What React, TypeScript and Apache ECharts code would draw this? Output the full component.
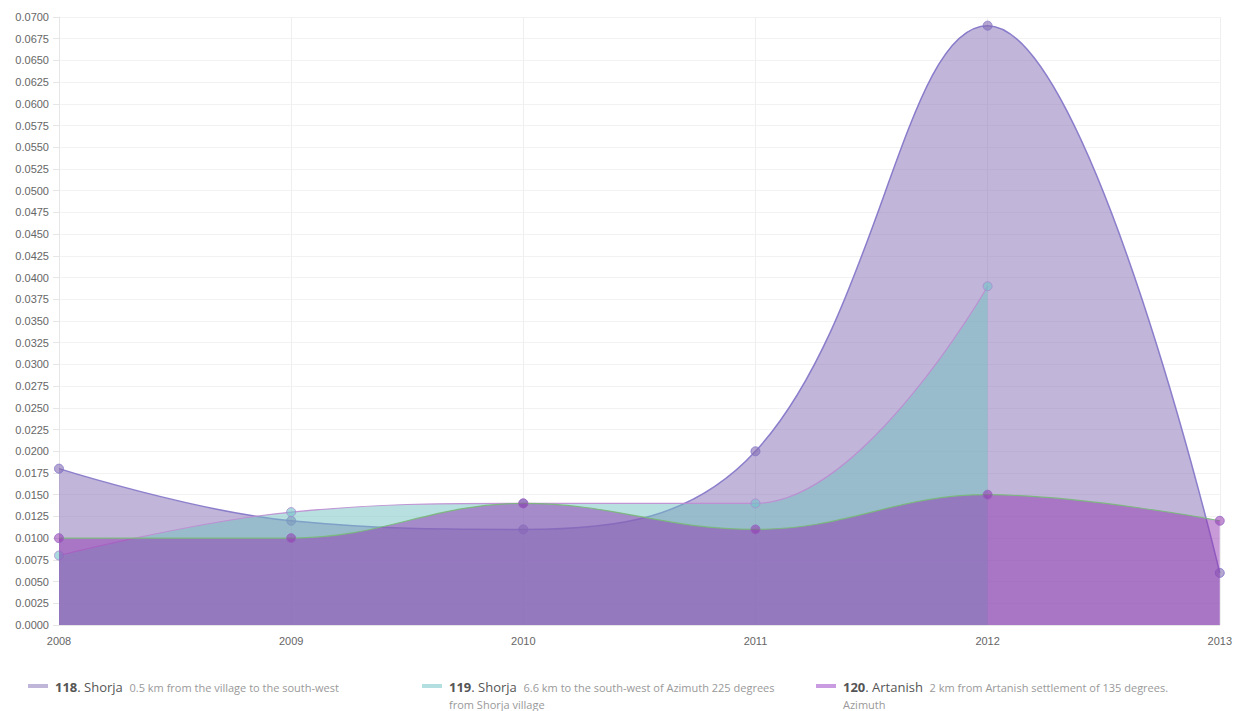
import React, { useEffect, useRef } from "react";
import * as echarts from "echarts";

const years = ["2008", "2009", "2010", "2011", "2012", "2013"];
const shorja118 = [0.018, 0.012, 0.011, 0.02, 0.069, 0.006];
const shorja119 = [0.008, 0.013, 0.014, 0.014, 0.039, null];
const artanish120 = [0.01, 0.01, 0.014, 0.011, 0.015, 0.012];

const legendItems = [
  { num: "118", name: "Shorja", desc1: "0.5 km from the village to the south-west", desc2: "", swatch: "#c0b6d9" },
  { num: "119", name: "Shorja", desc1: "6.6 km to the south-west of Azimuth 225 degrees", desc2: "from Shorja village", swatch: "#b3dfe1" },
  { num: "120", name: "Artanish", desc1: "2 km from Artanish settlement of 135 degrees.", desc2: "Azimuth", swatch: "#c99be0" },
];

export default function App() {
  const ref = useRef<HTMLDivElement>(null);
  useEffect(() => {
    if (!ref.current) return;
    const chart = echarts.init(ref.current, null, { renderer: "svg" });
    const legendX = [28, 422, 816];
    const graphic: any[] = [];
    legendItems.forEach((it, i) => {
      const x = legendX[i];
      graphic.push({
        type: "rect",
        shape: { x: x, y: 684, width: 20, height: 4 },
        style: { fill: it.swatch },
      });
      graphic.push({
        type: "text",
        x: x + 27,
        y: 687,
        style: {
          text: `{b|${it.num}}{n|. ${it.name}}  {d|${it.desc1}}`,
          verticalAlign: "middle",
          rich: {
            b: { fontFamily: "Open Sans", fontSize: 13, fontWeight: "bold", fill: "#555" },
            n: { fontFamily: "Open Sans", fontSize: 13, fill: "#555" },
            d: { fontFamily: "Open Sans", fontSize: 11, fill: "#999" },
          },
        },
      });
      if (it.desc2) {
        graphic.push({
          type: "text",
          x: x + 27,
          y: 704,
          style: {
            text: it.desc2,
            verticalAlign: "middle",
            fontFamily: "Open Sans",
            fontSize: 11,
            fill: "#999",
          },
        });
      }
    });

    chart.setOption({
      animation: false,
      grid: { left: 59, right: 15, top: 17, bottom: 86, containLabel: false },
      xAxis: {
        type: "category",
        data: years,
        boundaryGap: false,
        axisLine: { show: true, lineStyle: { color: "#e6e6e6" } },
        axisTick: { show: false },
        axisLabel: { color: "#666", fontSize: 11, fontFamily: "Liberation Sans, Arial", margin: 10 },
        splitLine: { show: true, lineStyle: { color: "#efefef" } },
      },
      yAxis: {
        type: "value",
        min: 0,
        max: 0.07,
        interval: 0.0025,
        axisLine: { show: true, lineStyle: { color: "#e6e6e6" } },
        axisTick: { show: true, length: 6, lineStyle: { color: "#e6e6e6" } },
        axisLabel: {
          color: "#666",
          fontSize: 11,
          fontFamily: "Liberation Sans, Arial",
          margin: 10,
          formatter: (v: number) => v.toFixed(4),
        },
        splitLine: { show: true, lineStyle: { color: "#f2f2f2" } },
      },
      graphic,
      series: [
        {
          name: "118. Shorja",
          type: "line",
          data: shorja118,
          smooth: 0.4,
          symbol: "circle",
          symbolSize: 9,
          lineStyle: { color: "rgba(130,115,200,0.9)", width: 1.5 },
          itemStyle: { color: "rgba(131,109,179,0.6)", borderColor: "rgba(130,115,200,0.8)", borderWidth: 1 },
          areaStyle: { color: "rgba(131,109,179,0.5)", opacity: 1 },
          z: 2,
        },
        {
          name: "119. Shorja",
          type: "line",
          data: shorja119,
          smooth: 0.4,
          symbol: "circle",
          symbolSize: 9,
          lineStyle: { color: "rgba(190,140,210,0.9)", width: 1.2 },
          itemStyle: { color: "rgba(113,193,200,0.6)", borderColor: "rgba(170,140,210,0.8)", borderWidth: 1 },
          areaStyle: { color: "rgba(113,193,193,0.5)", opacity: 1 },
          z: 3,
        },
        {
          name: "120. Artanish",
          type: "line",
          data: artanish120,
          smooth: 0.4,
          symbol: "circle",
          symbolSize: 9,
          lineStyle: { color: "rgba(120,185,120,0.9)", width: 1.2 },
          itemStyle: { color: "rgba(145,53,177,0.55)", borderColor: "rgba(150,100,190,0.8)", borderWidth: 1 },
          areaStyle: { color: "rgba(145,53,177,0.5)", opacity: 1 },
          z: 4,
        },
      ],
    });
    return () => chart.dispose();
  }, []);
  return (
    <div
      ref={ref}
      style={{ position: "fixed", left: 0, top: 0, width: 1235, height: 711, background: "#fff" }}
    />
  );
}
